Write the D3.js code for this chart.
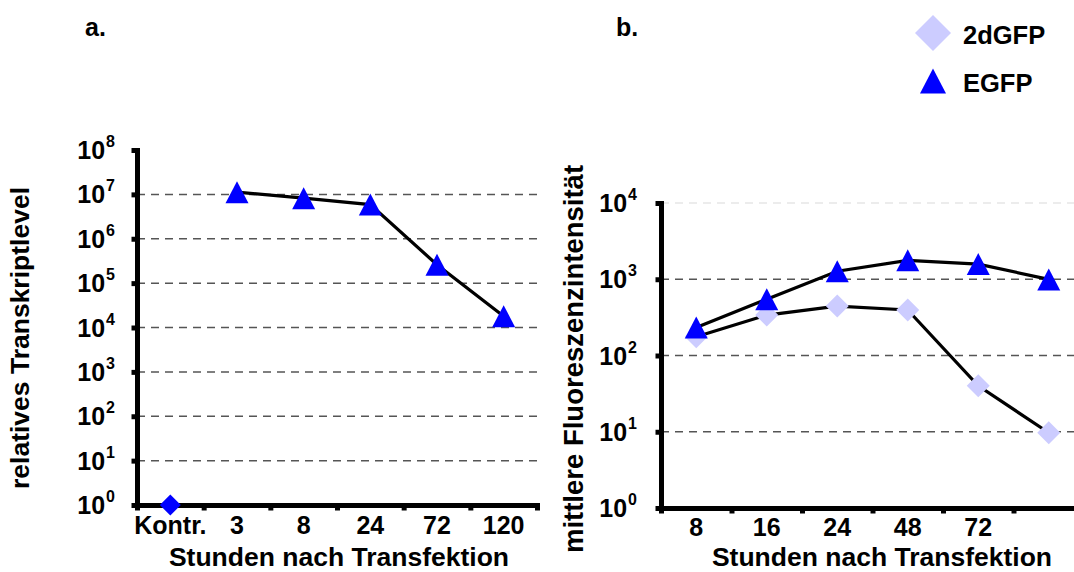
<!DOCTYPE html>
<html>
<head>
<meta charset="utf-8">
<script src="https://cdn.jsdelivr.net/npm/d3@7"></script>
<style>
  body { margin: 0; background: #fff; }
  svg text { font-family: 'Liberation Sans', Arial, sans-serif; font-weight: bold; fill: #000; }
</style>
</head>
<body>
<svg id="chart" width="1074" height="572"></svg>
<script>
// panel a: relative transcript level
const leftCategories = ['Kontr.', '3', '8', '24', '72', '120']
const leftControl = [1, null, null, null, null, null]
const leftEGFP = [null, 1.12e7, 8.2e6, 5.9e6, 2.6e5, 1.8e4]
const leftExponents = [0, 1, 2, 3, 4, 5, 6, 7, 8]

// panel b: mean fluorescence intensity
const rightCategories = ['8', '16', '24', '48', '72', '']
const right2dGFP = [176, 339, 445, 395, 40, 9.7]
const rightEGFP = [233, 548, 1275, 1770, 1580, 995]
const rightExponents = [0, 1, 2, 3, 4]

const xTitle = 'Stunden nach Transfektion'
const blue = '#0000ff'
const lavender = '#ccccff'

const svg = d3.select('#chart')

const triangle = (w, h) => `M0,${-h / 2}L${w / 2},${h / 2}L${-w / 2},${h / 2}Z`
const diamond = (w) => `M0,${-w / 2}L${w / 2},0L0,${w / 2}L${-w / 2},0Z`

function panel(cfg) {
  const g = svg.append('g')

  const x = d3.scaleBand().domain(cfg.categories).range(cfg.xRange)
  const y = d3
    .scaleLog()
    .domain([1, Math.pow(10, d3.max(cfg.exponents))])
    .range(cfg.yRange)

  // gridlines
  g.append('g')
    .selectAll('line')
    .data(cfg.exponents.filter((e) => e > 0 && e < d3.max(cfg.exponents)))
    .join('line')
    .attr('x1', cfg.xRange[0])
    .attr('x2', cfg.gridEnd)
    .attr('y1', (e) => y(Math.pow(10, e)))
    .attr('y2', (e) => y(Math.pow(10, e)))
    .attr('stroke', '#555')
    .attr('stroke-width', 1.5)
    .attr('stroke-dasharray', '8,6')

  if (cfg.topGrid) {
    const top = y(Math.pow(10, d3.max(cfg.exponents)))
    g.append('line')
      .attr('x1', cfg.xRange[0])
      .attr('x2', cfg.gridEnd)
      .attr('y1', top)
      .attr('y2', top)
      .attr('stroke', '#e6e6e6')
      .attr('stroke-width', 1.5)
      .attr('stroke-dasharray', '8,6')
  }

  // y axis
  const yAxis = g
    .append('g')
    .attr('transform', `translate(${cfg.xRange[0]},0)`)
    .call(
      d3
        .axisLeft(y)
        .tickValues(cfg.exponents.map((e) => Math.pow(10, e)))
        .tickFormat('')
        .tickSize(5.5)
        .tickSizeOuter(0)
    )
  yAxis.selectAll('line').attr('stroke-width', 5)
  yAxis.select('.domain').attr('stroke-width', 5).attr('stroke-linecap', 'square')

  // y tick labels 10^n
  const yLabels = g
    .append('g')
    .selectAll('text')
    .data(cfg.exponents)
    .join('text')
    .attr('x', cfg.xRange[0] - cfg.labelGap)
    .attr('y', (e) => y(Math.pow(10, e)) + 9)
    .attr('text-anchor', 'end')
    .style('font-size', '25px')
  yLabels.append('tspan').text('10')
  yLabels
    .append('tspan')
    .attr('dy', -12)
    .attr('dx', 1)
    .style('font-size', '16px')
    .text((e) => e)

  // x axis with ticks at band boundaries
  const bounds = d3
    .scaleLinear()
    .domain([0, cfg.categories.length])
    .range(cfg.xRange)
  const xAxis = g
    .append('g')
    .attr('transform', `translate(0,${cfg.yRange[0]})`)
    .call(
      d3
        .axisBottom(bounds)
        .ticks(cfg.categories.length)
        .tickFormat('')
        .tickSize(5.5)
        .tickSizeOuter(0)
    )
  xAxis.selectAll('line').attr('stroke-width', 5)
  xAxis.select('.domain').attr('stroke-width', 5).attr('stroke-linecap', 'square')

  // category labels
  g.append('g')
    .selectAll('text')
    .data(cfg.categories)
    .join('text')
    .attr('x', (d) => x(d) + x.bandwidth() / 2)
    .attr('y', cfg.yRange[0] + cfg.tickLabelOffset)
    .attr('text-anchor', 'middle')
    .style('font-size', '25px')
    .text((d) => d)

  // axis titles
  g.append('text')
    .attr('x', cfg.xTitlePos[0])
    .attr('y', cfg.xTitlePos[1])
    .attr('text-anchor', 'middle')
    .style('font-size', '26.5px')
    .text(xTitle)

  g.append('text')
    .attr('transform', `translate(${cfg.yTitlePos[0]},${cfg.yTitlePos[1]}) rotate(-90)`)
    .attr('text-anchor', 'middle')
    .style('font-size', cfg.yTitleSize)
    .text(cfg.yTitle)

  // panel letter
  g.append('text')
    .attr('x', cfg.letterPos[0])
    .attr('y', cfg.letterPos[1])
    .style('font-size', '25px')
    .text(cfg.letter)

  const cx = (i) => x(cfg.categories[i]) + x.bandwidth() / 2
  const line = d3
    .line()
    .defined((d) => d != null)
    .x((d, i) => cx(i))
    .y((d) => y(d))

  cfg.series.forEach((s) => {
    g.append('path')
      .datum(s.values)
      .attr('d', line)
      .attr('fill', 'none')
      .attr('stroke', '#000')
      .attr('stroke-width', 3.2)
  })

  cfg.series.forEach((s) => {
    g.append('g')
      .selectAll('path')
      .data(s.values.map((v, i) => ({ v, i })).filter((d) => d.v != null))
      .join('path')
      .attr('transform', (d) => `translate(${cx(d.i)},${y(d.v)})`)
      .attr('d', s.shape)
      .attr('fill', s.color)
  })
}

panel({
  categories: leftCategories,
  exponents: leftExponents,
  xRange: [137, 537],
  yRange: [505, 150],
  gridEnd: 540,
  labelGap: 22,
  tickLabelOffset: 29,
  xTitlePos: [339, 566],
  yTitle: 'relatives Transkriptlevel',
  yTitleSize: '26.5px',
  yTitlePos: [29, 338],
  letter: 'a.',
  letterPos: [85, 36],
  series: [
    { values: leftControl, shape: diamond(21), color: blue },
    { values: leftEGFP, shape: triangle(23, 22), color: blue },
  ],
})

panel({
  categories: rightCategories,
  exponents: rightExponents,
  xRange: [661, 1084],
  yRange: [508, 203],
  gridEnd: 1074,
  topGrid: true,
  labelGap: 24,
  tickLabelOffset: 28,
  xTitlePos: [882, 566],
  yTitle: 'mittlere Fluoreszenzintensität',
  yTitleSize: '27.5px',
  yTitlePos: [583, 359],
  letter: 'b.',
  letterPos: [616, 36],
  series: [
    { values: right2dGFP, shape: diamond(23), color: lavender },
    { values: rightEGFP, shape: triangle(23, 22), color: blue },
  ],
})

// legend
const legendItems = [
  { name: '2dGFP', shape: diamond(36), color: lavender, y: 33 },
  { name: 'EGFP', shape: triangle(26, 25), color: blue, y: 81 },
]
const legend = svg.append('g').attr('id', 'legend')
legend
  .selectAll('path')
  .data(legendItems)
  .join('path')
  .attr('transform', (d) => `translate(933,${d.y})`)
  .attr('d', (d) => d.shape)
  .attr('fill', (d) => d.color)
legend
  .selectAll('text')
  .data(legendItems)
  .join('text')
  .attr('x', 963)
  .attr('y', (d) => d.y + 4)
  .attr('dominant-baseline', 'middle')
  .style('font-size', '25.5px')
  .text((d) => d.name)
</script>
</body>
</html>
